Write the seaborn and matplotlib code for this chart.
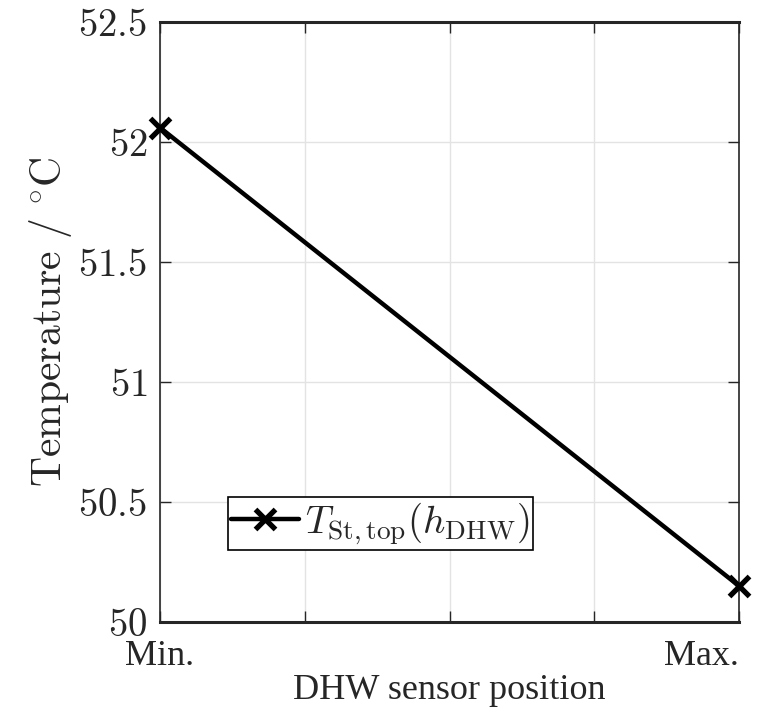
import matplotlib
matplotlib.use("Agg")
import matplotlib.pyplot as plt
from matplotlib.lines import Line2D
import pandas as pd
import seaborn as sns

# Daten
positions = [0.0, 1.0]
temperatures = [52.06, 50.15]
y_ticks = [50, 50.5, 51, 51.5, 52, 52.5]
y_tick_labels = ["50", "50.5", "51", "51.5", "52", "52.5"]
x_ticks = [0.0, 0.25, 0.5, 0.75, 1.0]
x_tick_labels = ["Min.", "", "", "", "Max."]
series_label = r"$T_{\mathrm{St,top}}(h_{\mathrm{DHW}})$"

sns.set_theme(style="whitegrid")
plt.rcParams["mathtext.fontset"] = "cm"
plt.rcParams["font.family"] = ["Liberation Serif", "DejaVu Serif"]

df = pd.DataFrame({"pos": positions, "temp": temperatures})

fig = plt.figure(figsize=(7.67, 7.17), dpi=100)
ax = fig.add_axes([0.2086, 0.1325, 0.755, 0.8368])

line_style = dict(color="black", linewidth=3.2, linestyle="-", marker="x",
                  markersize=15, markeredgewidth=3.8, markeredgecolor="black")

sns.lineplot(data=df, x="pos", y="temp", ax=ax, legend=False, **line_style)
for ln in ax.lines:
    ln.set_clip_on(False)
    ln.set_zorder(5)

ax.set_xlim(0, 1)
ax.set_ylim(50, 52.5)
ax.set_xticks(x_ticks)
ax.set_xticklabels(x_tick_labels, fontsize=26)
xl = ax.get_xticklabels()
xl[0].set_ha("center")
xl[-1].set_ha("right")
ax.set_yticks(y_ticks)
ax.set_yticklabels([f"${t}$" for t in y_tick_labels], fontsize=28)

ax.grid(True, color="#e3e3e3", linewidth=1)
ax.set_facecolor("white")
for side, sp in ax.spines.items():
    sp.set_visible(True)
    sp.set_color("#262626")
    sp.set_linewidth(2.2 if side in ("top", "bottom") else 1.2)

ax.tick_params(axis="both", direction="in", length=8, width=1, color="#262626",
               left=True, right=True, bottom=True, top=True)
ax.tick_params(axis="y", pad=9)
ax.tick_params(axis="x", pad=13)

ax.set_xlabel("DHW sensor position", fontsize=26, labelpad=1)
ax.set_ylabel(r"$\mathrm{Temperature\ /\ ^{\circ}C}$", fontsize=30, labelpad=3)

handle = Line2D([], [], **line_style)
leg = ax.legend(handles=[handle], labels=[series_label], loc="lower left",
                bbox_to_anchor=(0.117, 0.12), fontsize=28,
                frameon=True, fancybox=False, framealpha=1, edgecolor="black",
                handlelength=1.75, handletextpad=0.15, borderpad=0.08,
                borderaxespad=0)
leg.get_frame().set_linewidth(1.2)

fig.savefig("out.png", dpi=100, facecolor="white")
